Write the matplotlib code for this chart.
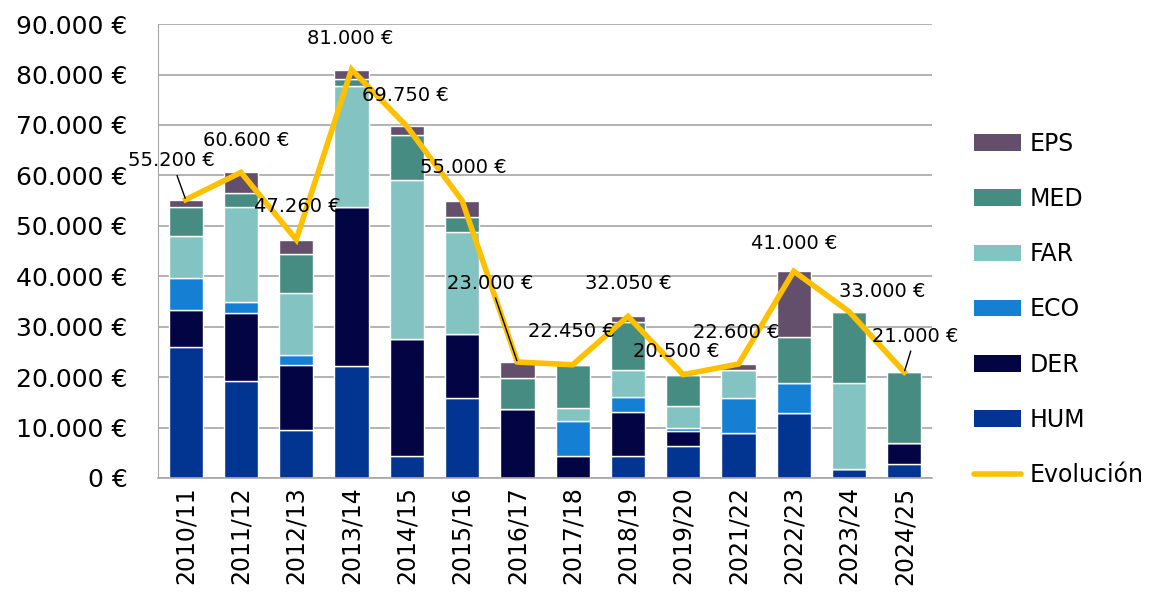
import numpy as np
import matplotlib
matplotlib.use('Agg')
import matplotlib.pyplot as plt
from matplotlib.patches import Patch
from matplotlib.lines import Line2D

plt.rcParams['font.family'] = ['DejaVu Sans']

cursos = ['2010/11', '2011/12', '2012/13', '2013/14', '2014/15', '2015/16', '2016/17',
          '2017/18', '2018/19', '2019/20', '2021/22', '2022/23', '2023/24', '2024/25']

hum = [26000, 19300, 9500, 22300, 4400, 15800, 0, 0, 4300, 6300, 8900, 12900, 1800, 2800]
der = [7300, 13400, 12900, 31400, 23150, 12800, 13700, 4400, 8700, 3000, 0, 0, 0, 4100]
eco = [6300, 2100, 1900, 0, 0, 0, 0, 7000, 3100, 550, 7000, 5900, 0, 0]
far = [8400, 18900, 12300, 24000, 31450, 20200, 0, 2400, 5300, 4450, 5500, 0, 17100, 0]
med = [5700, 2800, 7750, 1400, 9000, 2900, 6100, 8650, 9500, 6200, 0, 9100, 14100, 14100]
totales = [55200, 60600, 47260, 81000, 69750, 55000, 23000, 22450, 32050, 20500, 22600, 41000, 33000, 21000]
# EPS = lo que falta hasta el total
eps = [t - (a + b + c + d + e) for t, a, b, c, d, e in zip(totales, hum, der, eco, far, med)]
eps = [max(v, 0) for v in eps]

series = [('HUM', hum, '#013591'), ('DER', der, '#030444'), ('ECO', eco, '#1580D3'),
          ('FAR', far, '#83C3C1'), ('MED', med, '#478C82'), ('EPS', eps, '#634F6B')]

# desplazamiento de etiquetas (px) y si llevan linea guia
offsets = [(-14, 39, True), (5, 32, False), (1, 33, False), (-1, 31, False), (-1, 31, False),
           (1, 33, False), (-27, 79, True), (-1, 33, False), (0, 33, False), (-7, 23, False),
           (-2, 32, False), (0, 28, False), (33, 20, False), (11, 36, True)]

fig = plt.figure(figsize=(11.57, 6.03), dpi=100)
ax = fig.add_axes([0.1366, 0.2073, 0.8055 - 0.1366, 0.960 - 0.2073])

x = np.arange(len(cursos))
bottom = np.zeros(len(cursos))
for name, vals, col in series:
    ax.bar(x, vals, 0.62, bottom=bottom, color=col, edgecolor='white', linewidth=1, zorder=2)
    bottom += np.array(vals)

ax.plot(x, totales, color='#FFC000', linewidth=4, zorder=3, solid_joinstyle='miter')

for xi, t, (dx, dy, guia) in zip(x, totales, offsets):
    txt = f'{t:,.0f} €'.replace(',', '.')
    props = dict(arrowstyle='-', color='black', lw=1, shrinkA=2, shrinkB=1) if guia else None
    ax.annotate(txt, (xi, t), xytext=(dx, dy), textcoords='offset pixels',
                ha='center', va='center', fontsize=14, arrowprops=props, zorder=4)

ax.set_xlim(-0.5, len(cursos) - 0.5)
ax.set_ylim(0, 90000)
ax.set_yticks(np.arange(0, 90001, 10000))
ax.set_yticklabels([f'{v:,.0f} €'.replace(',', '.') for v in np.arange(0, 90001, 10000)])
ax.set_xticks(x)
ax.set_xticklabels(cursos, rotation=90)
ax.tick_params(axis='y', length=0, labelsize=18, pad=22)
ax.tick_params(axis='x', length=0, labelsize=17, pad=6)
ax.grid(axis='y', color='#A6A6A6', linewidth=1.2, zorder=0)
ax.set_axisbelow(True)
for s in ['top', 'right']:
    ax.spines[s].set_visible(False)
ax.spines['left'].set_color('#A6A6A6')
ax.spines['bottom'].set_color('#A6A6A6')
ax.spines['bottom'].set_linewidth(1.2)

handles = [Patch(facecolor=col, edgecolor='none') for _, _, col in series[::-1]]
handles.append(Line2D([0], [0], color='#FFC000', linewidth=4, solid_capstyle='round'))
labels = [n for n, _, _ in series[::-1]] + ['Evolución']
fig.legend(handles, labels, loc='center left', bbox_to_anchor=(0.8235, 0.487), frameon=False,
           fontsize=17, labelspacing=1.32, handlelength=2.0, handleheight=0.7, handletextpad=0.35)

fig.savefig('out.png', dpi=100)
